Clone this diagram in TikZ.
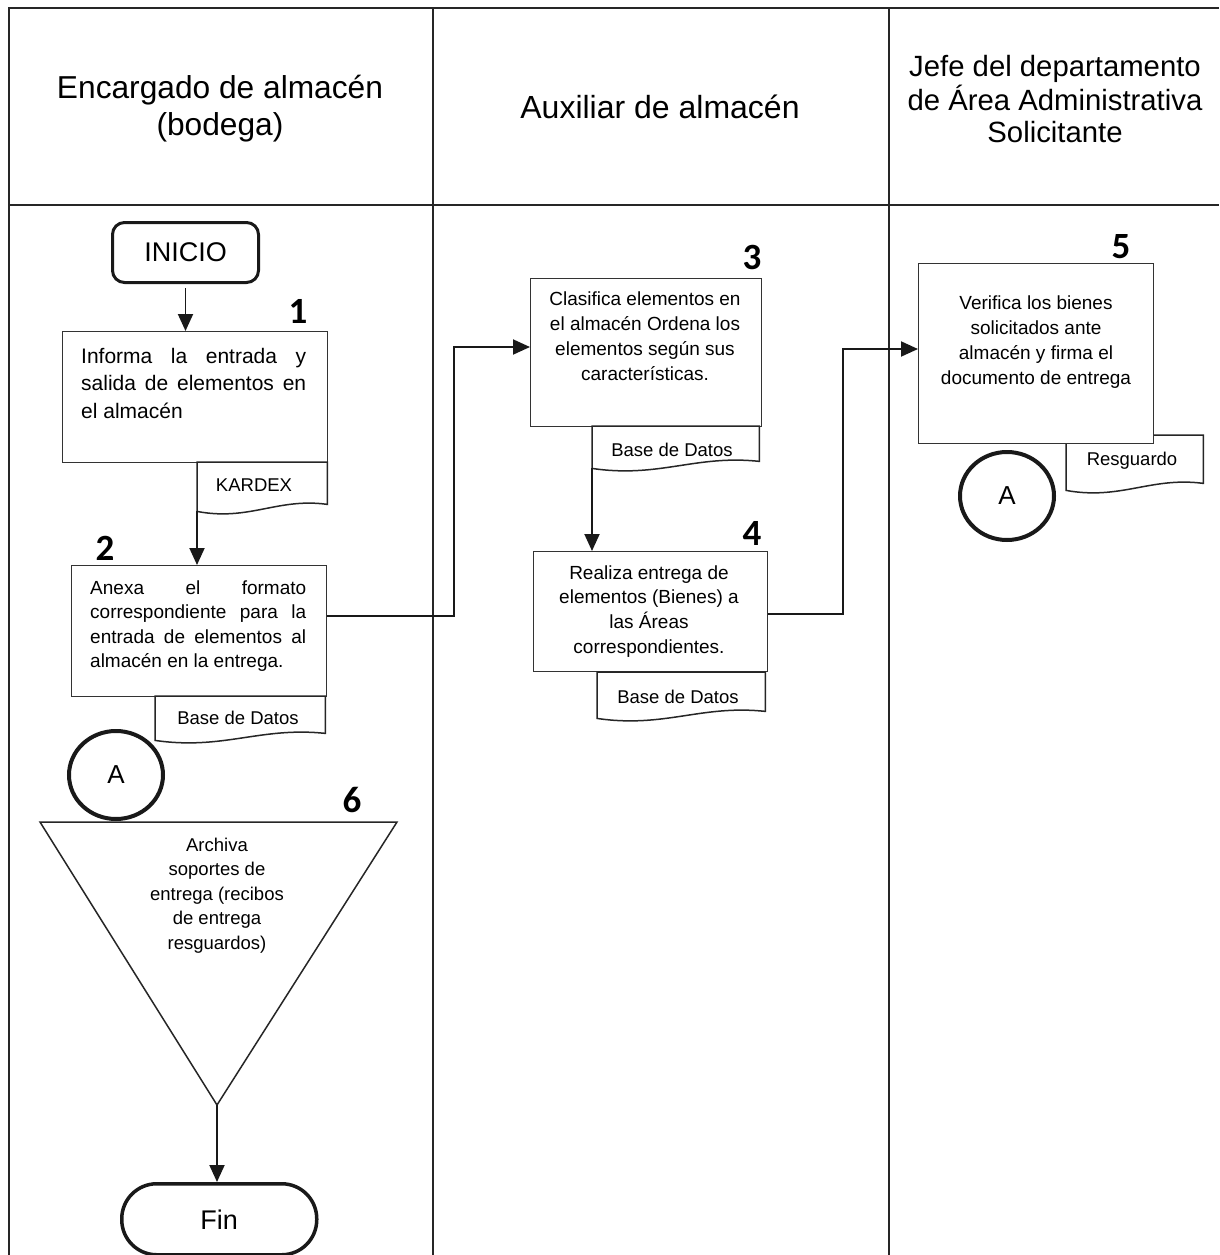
\documentclass[tikz,border=0pt]{standalone}
\usepackage{fontspec}
\setmainfont{Liberation Sans}
\newfontfamily\numfont{Carlito}
\usetikzlibrary{arrows.meta,calc,shapes.geometric}

% document symbol with a wavy lower edge, drawn around an empty node
\newcommand\docshape[1]{%
  \path[docline] (#1.north west) -- ($(#1.south west)+(0,4)$)
    .. controls ($(#1.south west)!0.4!(#1.south east)+(0,14)$)
       and ($(#1.south west)!0.62!(#1.south east)+(0,-10)$)
    .. ($(#1.south east)+(0,-3)$) -- (#1.north east) -- cycle;}

\begin{document}
\begin{tikzpicture}[x=1pt,y=-1pt,
  lane/.style={draw=black!85, line width=1.8pt},
  stepbox/.style={draw=black!80, line width=1.3pt, fill=white, anchor=north west,
    inner sep=0pt, minimum width=#1},
  txt/.style={anchor=base, inner sep=0pt},
  num/.style={inner sep=0pt, font=\numfont\bfseries\fontsize{37}{37}\selectfont},
  term/.style={draw=black!90, line width=3pt, anchor=north west, inner sep=0pt,
    font=\fontsize{27}{27}\selectfont},
  conn/.style={draw=black!90, line width=1.9pt},
  arr/.style={conn, -{Triangle[length=17pt,width=15pt]}},
  docnode/.style={anchor=north west, inner sep=0pt, minimum width=#1},
  docline/.style={draw=black!85, line width=1.5pt, fill=white},
  doctext/.style={anchor=base, inner sep=0pt, font=\fontsize{18.5}{22}\selectfont},
  link/.style={draw=black!90, line width=4pt, ellipse, minimum width=94pt,
    minimum height=88pt, inner sep=0pt, font=\fontsize{26}{26}\selectfont}
]
\fill[white] (0,0) rectangle (1219,1255);
\useasboundingbox (0,0) rectangle (1219,1255);

% swimlane frame
\draw[lane] (9,1255) -- (9,8) -- (1219,8);
\draw[lane] (9,205) -- (1219,205);
\draw[lane] (433,8) -- (433,1255);
\draw[lane] (889,8) -- (889,1255);

% lane titles
\node[txt] (h1) at (220,98) {\parbox[t]{400pt}{\centering\fontsize{31.7}{37}\selectfont
  Encargado de almacén\\(bodega)}};
\node[txt] (h2) at (660,118) {\parbox[t]{400pt}{\centering\fontsize{32}{33}\selectfont
  Auxiliar de almacén}};
\node[txt] (h3) at (1055,77) {\parbox[t]{400pt}{\centering\fontsize{29.3}{33}\selectfont
  Jefe del departamento\\de Área Administrativa\\Solicitante}};

% ---- lane 1 ----
\node[term, rounded corners=12pt, minimum width=146pt, minimum height=60pt]
  (ini) at (111,221) {INICIO};

\node[stepbox=265pt, minimum height=131pt] (b1) at (62,331) {};
\node[txt, anchor=base west] (t1) at (81,363) {\parbox[t]{225pt}{\fontsize{21}{27.5}\selectfont
  \hbox to 225pt{Informa\hfill la\hfill entrada\hfill y}%
  \hbox to 225pt{salida\hfill de\hfill elementos\hfill en}%
  \hbox{el almacén}}};
\node[num] (n1) at (298,311) {1};

\node[docnode=130pt, minimum height=45pt] (kdx) at (197,462) {};
\docshape{kdx}
\node[doctext] at (254,491) {KARDEX};

\node[stepbox=255pt, minimum height=131pt] (b2) at (71,565) {};
\node[txt, anchor=base west] (t2) at (90,594) {\parbox[t]{216pt}{\fontsize{19}{24.5}\selectfont
  \hbox to 216pt{Anexa\hfill el\hfill formato}%
  \hbox to 216pt{correspondiente\hfill para\hfill la}%
  \hbox to 216pt{entrada\hfill de\hfill elementos\hfill al}%
  \hbox{almacén en la entrega.}}};
\node[num] (n2) at (105,548) {2};

\node[docnode=170pt, minimum height=40pt] (bd2) at (155,696) {};
\docshape{bd2}
\node[doctext] at (238,724) {Base de Datos};

\node[link] (a1) at (116,775) {A};

\coordinate (tr1) at (40,822);
\coordinate (tr2) at (397,822);
\coordinate (tr3) at (217,1105);
\draw[draw=black!85, line width=1.5pt, fill=white] (tr1) -- (tr2) -- (tr3) -- cycle;
\node[txt] (t6) at (217,851) {\parbox[t]{200pt}{\centering\fontsize{18.5}{24.5}\selectfont
  Archiva\\soportes de\\entrega (recibos\\de entrega\\resguardos)}};
\node[num] (n6) at (352,800) {6};

\node[term, rounded corners=35pt, line width=3.5pt, minimum width=195pt, minimum height=71pt]
  (fin) at (120,1182) {Fin};

% ---- lane 2 ----
\node[stepbox=231pt, minimum height=148pt] (b3) at (530,278) {};
\node[txt] (t3) at (645,305) {\parbox[t]{230pt}{\centering\fontsize{19}{25.3}\selectfont
  Clasifica elementos en\\el almacén Ordena los\\elementos según sus\\características.}};
\node[num] (n3) at (752,257) {3};

\node[docnode=167pt, minimum height=38pt] (bd3) at (592,426) {};
\docshape{bd3}
\node[doctext] at (672,456) {Base de Datos};

\node[stepbox=234pt, minimum height=120pt] (b4) at (533,551) {};
\node[txt] (t4) at (649,579) {\parbox[t]{230pt}{\centering\fontsize{19}{24.7}\selectfont
  Realiza entrega de\\elementos (Bienes) a\\las Áreas\\correspondientes.}};
\node[num] (n4) at (752,533) {4};

\node[docnode=168pt, minimum height=42pt] (bd4) at (597,672) {};
\docshape{bd4}
\node[doctext] at (678,703) {Base de Datos};

% ---- lane 3 ----
\node[docnode=137pt, minimum height=51pt] (res) at (1066,435) {};
\docshape{res}
\node[doctext] at (1132,465) {Resguardo};

\node[stepbox=235pt, minimum height=180pt] (b5) at (918,263) {};
\node[txt] (t5) at (1036,309) {\parbox[t]{230pt}{\centering\fontsize{19}{25}\selectfont
  Verifica los bienes\\solicitados ante\\almacén y firma el\\documento de entrega}};
\node[num] (n5) at (1121,247) {5};

\node[link] (a2) at (1007,496) {A};

% ---- connectors ----
\draw[arr] ($(ini.south)+(0,4)$) -- (ini.south |- b1.north);
\draw[arr] ($(kdx.south west)+(0,4)$) -- (kdx.south west |- b2.north);
\coordinate (j1) at (454,347);
\draw[arr] ($(b2.north east)+(0,51)$) -| (j1) -- (j1 -| b3.west);
\draw[arr] ($(bd3.south west)+(0,4)$) -- (bd3.south west |- b4.north);
\coordinate (j2) at (843,349);
\draw[arr] ($(b4.north east)+(0,63)$) -| (j2) -- (j2 -| b5.west);
\draw[arr] (tr3) -- (tr3 |- fin.north);

\end{tikzpicture}
\end{document}
